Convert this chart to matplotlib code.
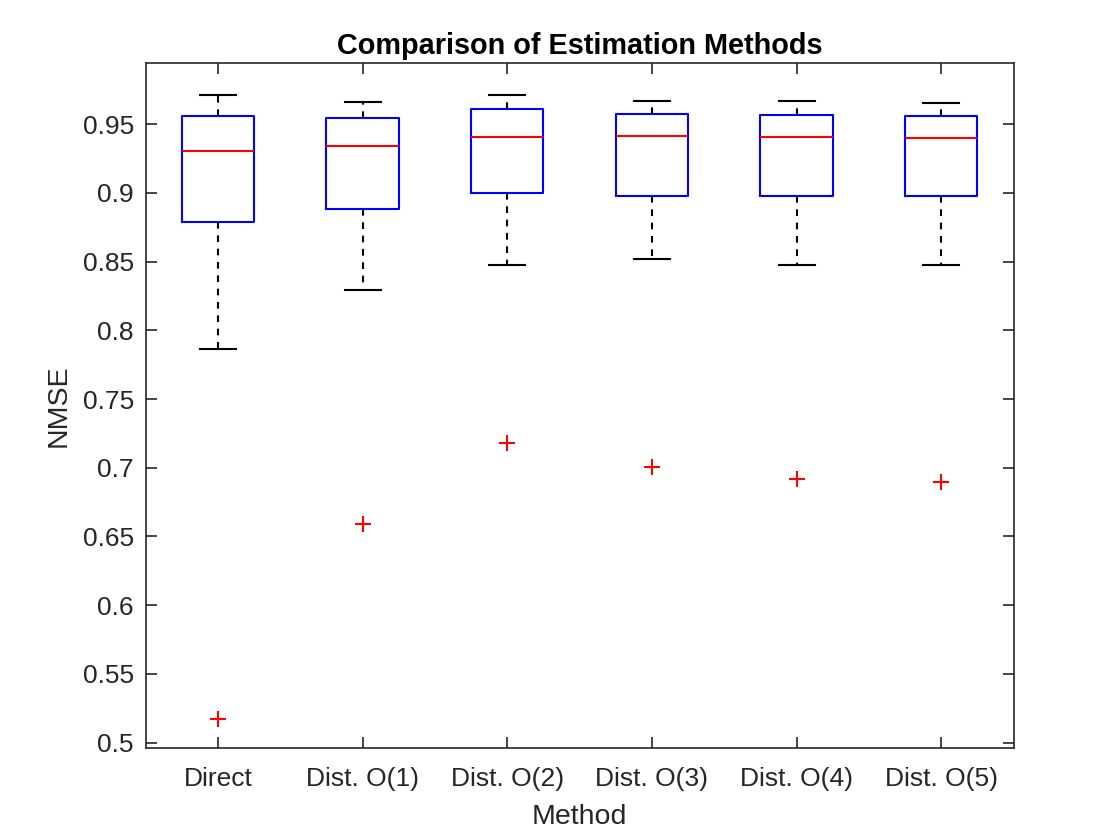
import numpy as np
import matplotlib
matplotlib.use('Agg')
import matplotlib.pyplot as plt

plt.rcParams['font.family'] = ['Liberation Sans', 'DejaVu Sans']

# Box statistics
methods = ['Direct', 'Dist. O(1)', 'Dist. O(2)', 'Dist. O(3)', 'Dist. O(4)', 'Dist. O(5)']
whisker_hi = [0.9714, 0.9660, 0.9714, 0.9668, 0.9665, 0.9653]
q3 = [0.9563, 0.9544, 0.9609, 0.9577, 0.9566, 0.9558]
medians = [0.9303, 0.9340, 0.9405, 0.9413, 0.9407, 0.9402]
q1 = [0.8788, 0.8880, 0.9000, 0.8975, 0.8975, 0.8975]
whisker_lo = [0.7867, 0.8294, 0.8474, 0.8518, 0.8474, 0.8474]
outliers = [[0.5171], [0.6594], [0.7181], [0.7002], [0.6915], [0.6894]]

stats = []
for i in range(len(methods)):
    stats.append(dict(med=medians[i], q1=q1[i], q3=q3[i],
                      whislo=whisker_lo[i], whishi=whisker_hi[i],
                      fliers=outliers[i], label=methods[i]))

fig = plt.figure(figsize=(11.2, 8.4), dpi=100)
ax = fig.add_axes([0.13, 0.11, 0.775, 0.815])

txt = '#262626'
ax.bxp(stats, positions=np.arange(1, 7), widths=0.5, showfliers=True,
       boxprops=dict(color='#0000ff', linewidth=1.5),
       medianprops=dict(color='#ff0000', linewidth=1.5),
       whiskerprops=dict(color='black', linewidth=1.5, linestyle=(0, (3.2, 3.2))),
       capprops=dict(color='black', linewidth=1.5),
       capwidths=0.25,
       flierprops=dict(marker='+', markeredgecolor='#ff0000', markersize=11,
                       markeredgewidth=1.5, linestyle='none'))

ax.set_xlim(0.5, 6.5)
ax.set_ylim(0.4964, 0.9945)
ax.set_yticks(np.arange(0.5, 0.951, 0.05))
ax.set_yticklabels(['0.5', '0.55', '0.6', '0.65', '0.7', '0.75', '0.8', '0.85', '0.9', '0.95'])
ax.set_xticks(np.arange(1, 7))
ax.set_xticklabels(methods)

ax.tick_params(direction='in', top=True, right=True, length=8, width=1.2,
               colors=txt, labelsize=19)
ax.tick_params(axis='y', pad=8.5)
ax.tick_params(axis='x', pad=14)
for s in ax.spines.values():
    s.set_color(txt)
    s.set_linewidth(1.2)

ax.set_xlabel('Method', fontsize=20.5, color=txt, labelpad=9)
ax.set_ylabel('NMSE', fontsize=20.5, color=txt, labelpad=8)
ax.set_title('Comparison of Estimation Methods', fontsize=20.8, fontweight='bold', color='black', pad=6.5)

fig.savefig('out.png', dpi=100)
